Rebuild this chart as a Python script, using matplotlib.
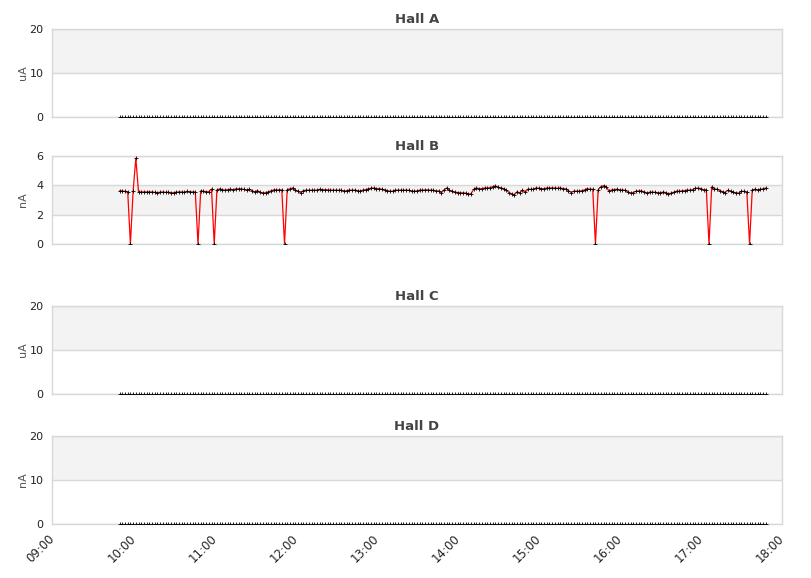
import datetime

import numpy as np
import matplotlib

matplotlib.use("Agg")
import matplotlib.pyplot as plt
import matplotlib.dates as mdates
import matplotlib.transforms as mtransforms

# Sampling: one reading every 2 minutes from 09:50 to 17:48 (240 samples).
START = datetime.datetime(2024, 1, 1, 9, 50)
STEP_MIN = 2
N_SAMPLES = 240

HALLS = ["Hall A", "Hall B", "Hall C", "Hall D"]
UNITS = ["uA", "nA", "uA", "nA"]
Y_MAX = [20, 6, 20, 20]
Y_TICKS = [[0, 10, 20], [0, 2, 4, 6], [0, 10, 20], [0, 10, 20]]

# Hall B beam current (nA).
hall_b = [
    3.62, 3.62, 3.58, 3.57, 0.00, 3.60, 5.85, 3.55, 3.55, 3.55,
    3.55, 3.55, 3.55, 3.52, 3.50, 3.53, 3.55, 3.52, 3.53, 3.50,
    3.50, 3.53, 3.55, 3.55, 3.52, 3.58, 3.56, 3.55, 3.55, 0.00,
    3.62, 3.60, 3.56, 3.57, 3.75, 0.00, 3.69, 3.75, 3.71, 3.67,
    3.71, 3.73, 3.69, 3.76, 3.76, 3.76, 3.72, 3.68, 3.73, 3.63,
    3.56, 3.64, 3.53, 3.47, 3.51, 3.55, 3.62, 3.69, 3.69, 3.69,
    3.69, 0.00, 3.71, 3.76, 3.82, 3.67, 3.58, 3.51, 3.64, 3.67,
    3.67, 3.67, 3.67, 3.67, 3.73, 3.69, 3.71, 3.69, 3.67, 3.67,
    3.67, 3.67, 3.67, 3.60, 3.64, 3.67, 3.67, 3.67, 3.64, 3.60,
    3.67, 3.71, 3.76, 3.80, 3.82, 3.78, 3.78, 3.73, 3.69, 3.64,
    3.60, 3.60, 3.67, 3.67, 3.67, 3.67, 3.67, 3.67, 3.60, 3.60,
    3.62, 3.67, 3.67, 3.69, 3.69, 3.67, 3.67, 3.62, 3.62, 3.49,
    3.69, 3.82, 3.66, 3.58, 3.53, 3.51, 3.49, 3.49, 3.47, 3.38,
    3.44, 3.73, 3.82, 3.76, 3.78, 3.82, 3.82, 3.84, 3.91, 3.96,
    3.87, 3.82, 3.78, 3.69, 3.51, 3.42, 3.35, 3.56, 3.49, 3.67,
    3.53, 3.73, 3.73, 3.73, 3.82, 3.80, 3.76, 3.78, 3.82, 3.82,
    3.82, 3.82, 3.80, 3.82, 3.78, 3.76, 3.64, 3.51, 3.60, 3.60,
    3.60, 3.64, 3.69, 3.78, 3.73, 3.73, 0.00, 3.69, 3.91, 3.98,
    3.91, 3.60, 3.69, 3.71, 3.73, 3.67, 3.69, 3.65, 3.55, 3.47,
    3.51, 3.60, 3.62, 3.62, 3.56, 3.47, 3.53, 3.53, 3.53, 3.49,
    3.51, 3.53, 3.51, 3.42, 3.47, 3.53, 3.60, 3.60, 3.62, 3.64,
    3.67, 3.67, 3.71, 3.80, 3.80, 3.78, 3.69, 3.71, 0.00, 3.89,
    3.76, 3.73, 3.64, 3.56, 3.51, 3.67, 3.58, 3.53, 3.49, 3.47,
    3.60, 3.58, 3.53, 0.00, 3.69, 3.73, 3.69, 3.73, 3.76, 3.82,
]
# Halls A, C and D read zero for the whole shift.
hall_a = [0.0] * N_SAMPLES
hall_c = [0.0] * N_SAMPLES
hall_d = [0.0] * N_SAMPLES

GRID = "#d8d8d8"
BAND = "#f3f3f3"

times = [START + datetime.timedelta(minutes=STEP_MIN * k) for k in range(N_SAMPLES)]
series = [hall_a, hall_b, hall_c, hall_d]

fig = plt.figure(figsize=(8.11, 5.78), dpi=100)

# panel boxes in pixels: (top, bottom); every panel spans x 52..782
W, H = 811, 578
boxes = [(29, 117), (156, 244), (306, 394), (436, 524)]

x0 = datetime.datetime(2024, 1, 1, 9, 0)
x1 = datetime.datetime(2024, 1, 1, 18, 0)

for k, (name, unit, ymax, yt, vals, (top, bot)) in enumerate(
    zip(HALLS, UNITS, Y_MAX, Y_TICKS, series, boxes)
):
    ax = fig.add_axes([52 / W, 1 - bot / H, 730 / W, (bot - top) / H])
    ax.set_xlim(x0, x1)
    ax.set_ylim(0, ymax)
    ax.set_yticks(yt)

    # alternate grey bands between every other pair of grid lines
    for j in range(1, len(yt) - 1, 2):
        ax.axhspan(yt[j], yt[j + 1], color=BAND, lw=0, zorder=0)
    for v in yt:
        ax.axhline(v, color=GRID, lw=1, zorder=0.5)

    for s in ax.spines.values():
        s.set_color(GRID)
        s.set_linewidth(1)

    if any(vals):
        ax.plot(times, vals, color="#ff0000", lw=0.9, zorder=2)
    ax.plot(times, vals, ls="none", marker="+", ms=2.4, mew=0.6,
            color="black", zorder=3)

    ax.set_title(name, fontsize=9.5, fontweight="bold", color="#444444", pad=4)
    ax.set_ylabel(unit, fontsize=8, color="#555555")
    ax.yaxis.set_label_coords(-0.033, 0.5)
    ax.tick_params(length=0, labelsize=8, labelcolor="#222222", pad=6)

    ax.xaxis.set_major_locator(mdates.HourLocator())
    ax.xaxis.set_major_formatter(mdates.DateFormatter("%H:%M"))
    if k < len(HALLS) - 1:
        ax.tick_params(axis="x", labelbottom=False)
    else:
        ax.tick_params(axis="x", pad=6)
        shift = mtransforms.ScaledTranslation(5 / 100, 0, fig.dpi_scale_trans)
        for lbl in ax.get_xticklabels():
            lbl.set_rotation(45)
            lbl.set_ha("right")
            lbl.set_fontsize(8.5)
            lbl.set_transform(lbl.get_transform() + shift)

fig.savefig("out.png", dpi=100)
